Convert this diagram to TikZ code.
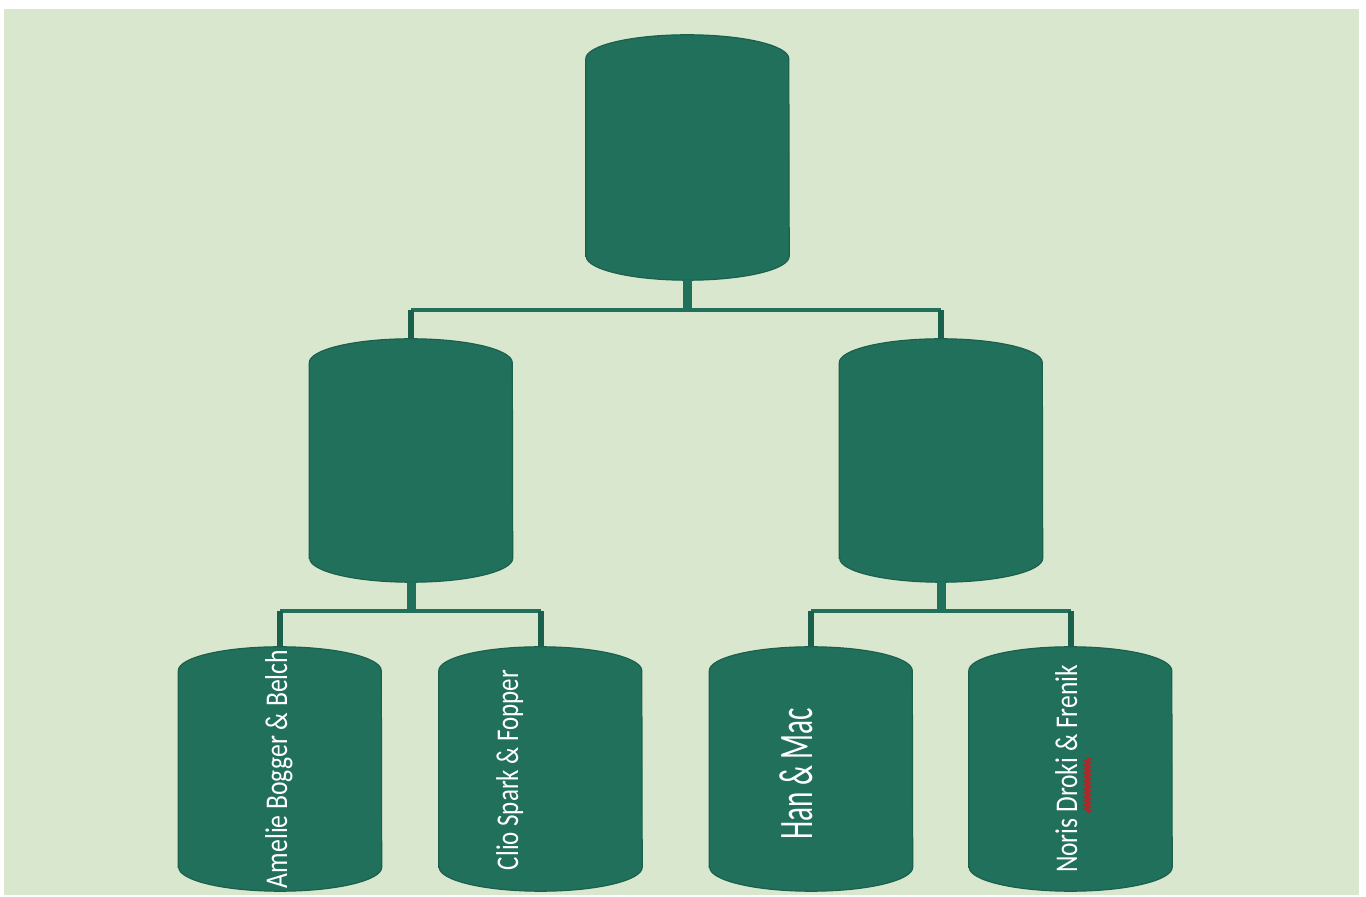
\documentclass[tikz,border=0pt]{standalone}
\usepackage{fontspec}
\setmainfont{Carlito}
\usetikzlibrary{decorations.pathmorphing}
\definecolor{bgcol}{RGB}{217,231,206}
\definecolor{capcol}{RGB}{33,112,91}
\definecolor{capedge}{RGB}{27,96,77}
\definecolor{squig}{RGB}{185,35,35}
\pgfdeclarelayer{background}
\pgfsetlayers{background,main}
\tikzset{
  capnode/.style={rectangle, minimum width=203pt, minimum height=244pt, inner sep=0pt, draw=none},
  capfill/.style={fill=capcol, draw=capedge, line width=1.2pt},
  stem/.style={draw=capcol, line width=9pt},
  bus/.style={draw=capcol, line width=4pt},
  drop/.style={draw=capedge, line width=6pt},
  lbl/.style={text=white, rotate=90, anchor=base, inner sep=0pt},
}
\newcommand\capsulefill[1]{%
  \path[capfill] ([yshift=24pt]#1.south west) -- ([yshift=-24pt]#1.north west)
    arc[start angle=180,end angle=0,x radius=101.5pt,y radius=24pt]
    -- ([yshift=24pt]#1.south east)
    arc[start angle=0,end angle=-180,x radius=101.5pt,y radius=24pt] -- cycle;}
\begin{document}
\begin{tikzpicture}[x=1pt,y=1pt]
\useasboundingbox (0,0) rectangle (1366,897);
% nodes
\node[capnode, minimum height=245pt] (top) at (687.5,739.5) {};
\node[capnode, minimum height=243pt] (ml) at (411,436.5) {};
\node[capnode, minimum height=243pt] (mr) at (941,436.5) {};
\node[capnode] (b1) at (280,128) {};
\node[capnode] (b2) at (540.5,128) {};
\node[capnode] (b3) at (811,128) {};
\node[capnode] (b4) at (1070.5,128) {};
\begin{pgfonlayer}{background}
  \fill[white] (0,0) rectangle (1366,897);
  \fill[bgcol] (4,2) rectangle (1359,888);
  \capsulefill{top}
  \capsulefill{ml}
  \capsulefill{mr}
  \capsulefill{b1}
  \capsulefill{b2}
  \capsulefill{b3}
  \capsulefill{b4}
\end{pgfonlayer}
% connectors level 1
\draw[stem] (top.south) -- ++(0,-30) coordinate (j1);
\draw[bus] (ml.north |- j1) -- (mr.north |- j1);
\draw[drop] (ml.north |- j1) -- (ml.north);
\draw[drop] (mr.north |- j1) -- (mr.north);
% connectors level 2 left
\draw[stem] (ml.south) -- ++(0,-29) coordinate (j2);
\draw[bus] (b1.north |- j2) -- (b2.north |- j2);
\draw[drop] (b1.north |- j2) -- (b1.north);
\draw[drop] (b2.north |- j2) -- (b2.north);
% connectors level 2 right
\draw[stem] (mr.south) -- ++(0,-29) coordinate (j3);
\draw[bus] (b3.north |- j3) -- (b4.north |- j3);
\draw[drop] (b3.north |- j3) -- (b3.north);
\draw[drop] (b4.north |- j3) -- (b4.north);
% labels
\node[lbl] (t1) at (287,128) {\resizebox{238pt}{\height}{\fontsize{31.6}{32}\selectfont Amelie Bogger \& Belch}};
\node[lbl] (t2) at (518,127) {\resizebox{200pt}{\height}{\fontsize{31.6}{32}\selectfont Clio Spark \& Fopper}};
\node[lbl] (t3) at (812,123) {\resizebox{132pt}{\height}{\fontsize{48}{50}\selectfont Han \& Mac}};
\node[lbl] (t4) at (1077,128) {\resizebox{208pt}{\height}{\fontsize{31.6}{32}\selectfont Noris Droki \& Frenik}};
\draw[squig, line width=2pt, decorate, decoration={zigzag, segment length=4pt, amplitude=2.4pt}] (1087.5,139) -- (1087.5,85);
\end{tikzpicture}
\end{document}
